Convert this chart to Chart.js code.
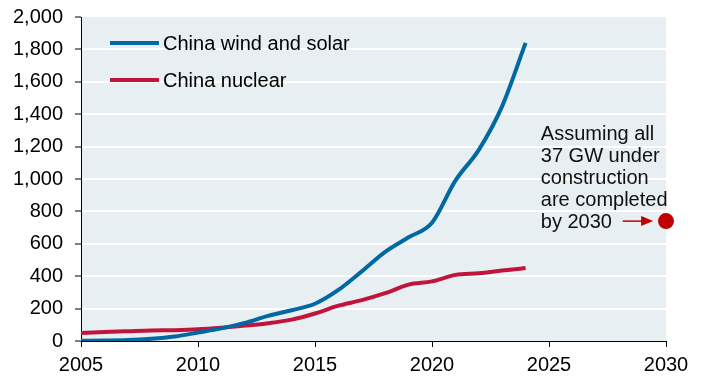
<!DOCTYPE html>
<html>
<head>
<meta charset="utf-8">
<script src="https://cdn.jsdelivr.net/npm/chart.js@4.4.1/dist/chart.umd.min.js"></script>
<style>
html,body{margin:0;padding:0;background:#fff;}
#wrap{width:702px;height:379px;}
</style>
</head>
<body>
<div id="wrap"><canvas id="c" width="702" height="379"></canvas></div>
<script>
const years = [2005,2006,2007,2008,2009,2010,2011,2012,2013,2014,2015,2016,2017,2018,2019,2020,2021,2022,2023,2024];
const windSolar = [2,3,6,14,28,52,78,112,155,190,230,315,430,550,640,730,990,1180,1450,1840];
const nuclear = [50,55,60,65,67,72,82,95,110,132,170,218,252,295,348,368,408,418,435,450];
const target2030 = [{x:2030, y:740}];
const seriesLabels = ['China wind and solar','China nuclear'];
const xTicks = [2005,2010,2015,2020,2025,2030];
const yTicks = [0,200,400,600,800,1000,1200,1400,1600,1800,2000];
const noteLines = ['Assuming all','37 GW under','construction','are completed','by 2030'];

const FONT = '"Liberation Sans", Arial, sans-serif';
const BLUE = '#0068a2';
const RED = '#c0143c';
const DOT = '#c00000';

const bgPlugin = {
  id:'bg',
  beforeDraw(chart){
    const {ctx, chartArea:a} = chart;
    ctx.save();
    ctx.fillStyle = '#e7eff2';
    ctx.fillRect(a.left, a.top, a.right-a.left, a.bottom-a.top);
    ctx.restore();
  }
};

const overlayPlugin = {
  id:'overlay',
  afterDraw(chart){
    const {ctx, chartArea:a, scales} = chart;
    const xs = scales.x, ys = scales.y;
    ctx.save();
    ctx.font = '20px ' + FONT;
    ctx.textBaseline = 'middle';
    ctx.textAlign = 'left';
    const legY = [43, 80];
    chart.data.datasets.slice(0,2).forEach((ds,i)=>{
      ctx.strokeStyle = ds.borderColor;
      ctx.lineWidth = 4;
      ctx.beginPath();
      ctx.moveTo(a.left+29, legY[i]);
      ctx.lineTo(a.left+78, legY[i]);
      ctx.stroke();
      ctx.fillStyle = '#000';
      ctx.fillText(ds.label, a.left+82, legY[i]+1);
    });
    const py = ys.getPixelForValue(target2030[0].y);
    const tx = xs.getPixelForValue(2024.65);
    ctx.fillStyle = '#111';
    noteLines.forEach((t,i)=>{
      ctx.fillText(t, tx, py - (noteLines.length-1-i)*22 + 1);
    });
    const ax0 = xs.getPixelForValue(2028.15);
    const ax1 = xs.getPixelForValue(2029.45);
    ctx.strokeStyle = DOT;
    ctx.fillStyle = DOT;
    ctx.lineWidth = 1.5;
    ctx.beginPath();
    ctx.moveTo(ax0, py);
    ctx.lineTo(ax1-10, py);
    ctx.stroke();
    ctx.beginPath();
    ctx.moveTo(ax1, py);
    ctx.lineTo(ax1-12, py-5);
    ctx.lineTo(ax1-12, py+5);
    ctx.closePath();
    ctx.fill();
    ctx.restore();
  }
};

const ctx = document.getElementById('c').getContext('2d');
new Chart(ctx, {
  type:'line',
  data:{
    datasets:[
      {label:seriesLabels[0], data:years.map((y,i)=>({x:y,y:windSolar[i]})), borderColor:BLUE, borderWidth:4, pointRadius:0, cubicInterpolationMode:'monotone', fill:false},
      {label:seriesLabels[1], data:years.map((y,i)=>({x:y,y:nuclear[i]})), borderColor:RED, borderWidth:4, pointRadius:0, cubicInterpolationMode:'monotone', fill:false},
      {type:'scatter', label:'2030', data:target2030, backgroundColor:DOT, borderColor:DOT, pointRadius:8, borderWidth:0, clip:false}
    ]
  },
  options:{
    responsive:false,
    animation:false,
    devicePixelRatio:1,
    layout:{padding:{top:17,right:36,left:0,bottom:0}},
    plugins:{legend:{display:false}, tooltip:{enabled:false}},
    scales:{
      x:{
        type:'linear', min:2005, max:2030,
        afterBuildTicks(s){ s.ticks = xTicks.map(v=>({value:v})); },
        afterFit(s){ s.height = 38; s.paddingLeft = 0; s.paddingRight = 0; },
        ticks:{font:{family:FONT,size:20}, color:'#000', padding:6, maxRotation:0, callback:v=>String(v)},
        grid:{drawOnChartArea:false, color:'#000', tickLength:6, tickWidth:1},
        border:{color:'#000', width:1}
      },
      y:{
        min:0, max:2000,
        afterBuildTicks(s){ s.ticks = yTicks.map(v=>({value:v})); },
        afterFit(s){ s.width = 81; s.paddingTop = 0; s.paddingBottom = 0; },
        ticks:{font:{family:FONT,size:20}, color:'#000', padding:12, callback:v=>v.toLocaleString('en-US')},
        grid:{color:(c)=> (c.tick && (c.tick.value===0 || c.tick.value===2000)) ? 'rgba(0,0,0,0)' : '#ffffff', lineWidth:2, tickColor:'#000', tickLength:6, tickWidth:1},
        border:{color:'#000', width:1}
      }
    }
  },
  plugins:[bgPlugin, overlayPlugin]
});
</script>
</body>
</html>
